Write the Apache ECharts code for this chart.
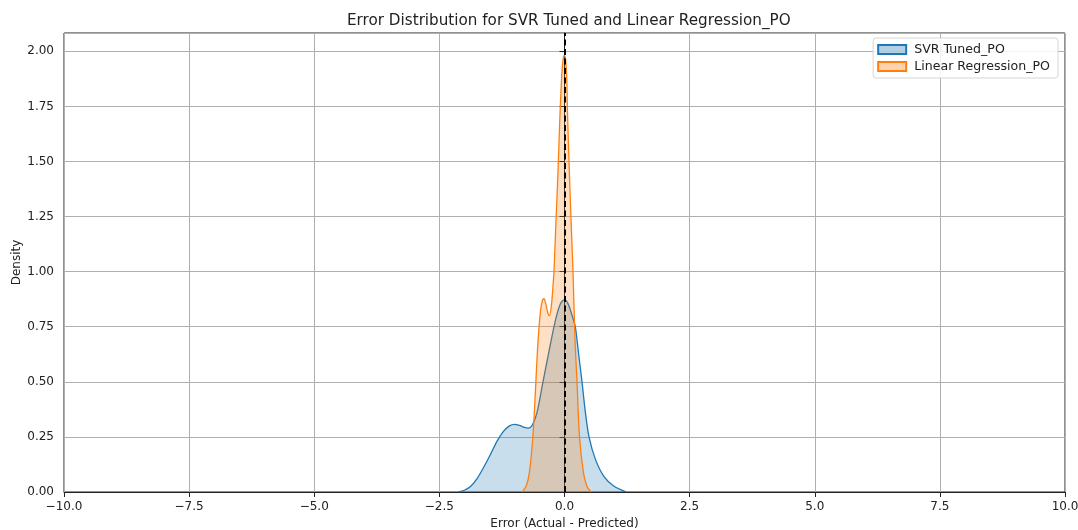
<!DOCTYPE html>
<html>
<head>
<meta charset="utf-8">
<script src="https://cdn.jsdelivr.net/npm/echarts@6/dist/echarts.min.js"></script>
<style>html,body{margin:0;padding:0;background:#fff;}#c{width:1078px;height:530px;}</style>
</head>
<body>
<div id="c"></div>
<script>
const titleText = 'Error Distribution for SVR Tuned and Linear Regression_PO';
const seriesNames = ['SVR Tuned_PO', 'Linear Regression_PO'];
const xTicks = [-10, -7.5, -5, -2.5, 0, 2.5, 5, 7.5, 10];
const yTicks = [0, 0.25, 0.5, 0.75, 1.0, 1.25, 1.5, 1.75, 2.0];

// SVR Tuned_PO KDE (x, density)
const svrX = [-2.12, -2.0, -1.88, -1.75, -1.62, -1.48, -1.35, -1.22, -1.10, -1.0, -0.90, -0.80, -0.72, -0.64, -0.55, -0.43, -0.30, -0.18, -0.08, 0.0, 0.07, 0.14, 0.215, 0.28, 0.35, 0.41, 0.49, 0.62, 0.79, 0.99, 1.24];
const svrY = [0.0, 0.008, 0.025, 0.06, 0.11, 0.17, 0.23, 0.275, 0.30, 0.307, 0.302, 0.293, 0.29, 0.305, 0.36, 0.50, 0.65, 0.78, 0.855, 0.873, 0.855, 0.81, 0.75, 0.63, 0.50, 0.375, 0.25, 0.147, 0.07, 0.026, 0.0];

// Linear Regression_PO KDE (x, density)
const lrX = [-0.84, -0.76, -0.70, -0.65, -0.61, -0.57, -0.53, -0.48, -0.44, -0.41, -0.37, -0.33, -0.30, -0.26, -0.23, -0.21, -0.167, -0.135, -0.094, -0.05, -0.02, 0.0, 0.02, 0.045, 0.06, 0.09, 0.12, 0.15, 0.17, 0.21, 0.25, 0.30, 0.38, 0.45, 0.53];
const lrY = [0.0, 0.03, 0.09, 0.20, 0.33, 0.51, 0.68, 0.82, 0.87, 0.877, 0.85, 0.81, 0.80, 0.85, 0.935, 1.0, 1.25, 1.42, 1.69, 1.91, 1.975, 1.98, 1.965, 1.88, 1.72, 1.50, 1.30, 1.12, 1.0, 0.69, 0.50, 0.25, 0.086, 0.025, 0.0];

const ymax = 2.083;

const svrData = svrX.map((x, i) => [x, svrY[i]]);
const lrData = lrX.map((x, i) => [x, lrY[i]]);

const blue = '#1f77b4', orange = '#ff7f0e';
const blueFill = 'rgba(31,119,180,0.34)', orangeFill = 'rgba(255,127,14,0.34)';
const font = 'DejaVu Sans';

const chart = echarts.init(document.getElementById('c'), null, {renderer: 'canvas'});
chart.setOption({
  animation: false,
  backgroundColor: '#fff',
  title: {
    text: titleText, left: 342, top: 9,
    textStyle: {fontFamily: font, fontSize: 15.2, fontWeight: 'normal', color: '#222'}
  },
  legend: {
    orient: 'vertical', right: 20, top: 38,
    data: seriesNames,
    icon: 'rect', itemWidth: 28, itemHeight: 9, itemGap: 4,
    backgroundColor: 'rgba(255,255,255,0.85)', borderColor: '#d5d5d5', borderWidth: 1, borderRadius: 3,
    padding: [5, 8, 5, 4],
    textStyle: {fontFamily: font, fontSize: 12.6, color: '#222', padding: [0, 0, 0, 3]}
  },
  grid: {left: 64, right: 13, top: 33, bottom: 38, show: true, borderColor: '#222', borderWidth: 1,
    containLabel: false, outerBoundsMode: 'none'},
  xAxis: {
    type: 'value', min: -10, max: 10, interval: 2.5,
    name: 'Error (Actual - Predicted)', nameLocation: 'middle', nameGap: 26, nameMoveOverlap: false,
    nameTextStyle: {fontFamily: font, fontSize: 12, color: '#222'},
    axisLine: {show: true, lineStyle: {color: '#222'}},
    axisTick: {show: true, length: 5, lineStyle: {color: '#222'}},
    axisLabel: {fontFamily: font, fontSize: 12, color: '#222', margin: 9,
      formatter: v => (v < 0 ? '\u2212' : '') + Math.abs(v).toFixed(1)},
    splitLine: {show: true, lineStyle: {color: '#b0b0b0', width: 1}}
  },
  yAxis: {
    type: 'value', min: 0, max: ymax, interval: 0.25,
    name: 'Density', nameLocation: 'middle', nameGap: 41, nameRotate: 90, nameMoveOverlap: false,
    nameTextStyle: {fontFamily: font, fontSize: 12, color: '#222'},
    axisLine: {show: true, lineStyle: {color: '#222'}},
    axisTick: {show: true, length: 5, lineStyle: {color: '#222'}},
    axisLabel: {fontFamily: font, fontSize: 12, color: '#222', margin: 10,
      formatter: v => yTicks.some(t => Math.abs(t - v) < 1e-9) ? v.toFixed(2) : '', showMaxLabel: false},
    splitLine: {show: true, lineStyle: {color: '#b0b0b0', width: 1}}
  },
  series: [
    {
      name: seriesNames[0], type: 'line', data: svrData, smooth: 0.3, symbol: 'none',
      lineStyle: {color: blue, width: 1.3},
      itemStyle: {color: blueFill, borderColor: blue, borderWidth: 1.2},
      areaStyle: {color: blueFill, origin: 'start'}, z: 2
    },
    {
      name: seriesNames[1], type: 'line', data: lrData, smooth: 0.3, symbol: 'none',
      lineStyle: {color: orange, width: 1.3},
      itemStyle: {color: orangeFill, borderColor: orange, borderWidth: 1.2},
      areaStyle: {color: orangeFill, origin: 'start'}, z: 3,
      markLine: {
        silent: true, symbol: 'none', label: {show: false},
        lineStyle: {color: '#000', type: [6, 3.5], width: 2},
        data: [{xAxis: 0}], z: 10
      }
    }
  ]
});
</script>
</body>
</html>
